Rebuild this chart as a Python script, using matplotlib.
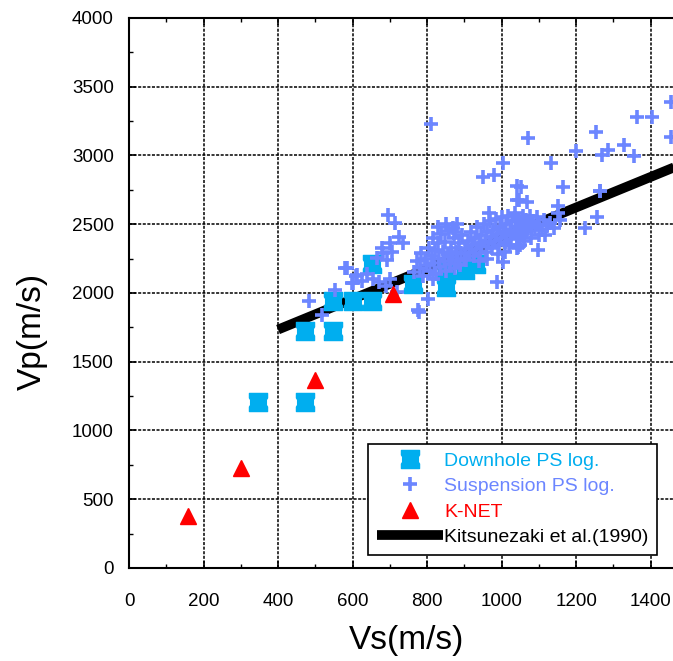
import matplotlib
matplotlib.use("Agg")
import matplotlib.pyplot as plt
from matplotlib.path import Path
from matplotlib.ticker import MultipleLocator

plt.rcParams['font.family'] = ['Liberation Sans', 'DejaVu Sans']

# Downhole PS logging
down_vs = [345, 473, 473, 548, 548, 601, 653, 653, 761, 851, 851, 903, 932]
down_vp = [1210, 1210, 1720, 1720, 1945, 1945, 1945, 2210, 2065, 2040, 2170, 2167, 2210]

# Suspension PS logging
susp_vs = [
    483, 518, 580, 612, 599, 553, 585, 601, 610, 625, 640, 655, 670, 690, 700, 720,
    692, 695, 714, 701, 736, 682, 665, 680, 705, 725, 776, 803, 816, 779,
    811, 1004, 950, 980, 1042, 1042, 1071, 1254, 1364, 1404, 1455, 1455, 1200, 1286,
    1270, 1329, 1356, 1133, 1052, 1165, 1264, 1152, 1256, 1224, 1152, 1117, 1098,
    1044, 1157, 875, 988, 1004, 966, 1068, 1047, 1264,
    765, 772, 780, 785, 790, 795, 800, 805, 808, 812, 815, 818, 822, 825, 828, 832,
    835, 838, 842, 845, 848, 852, 855, 858, 862, 865, 868, 872, 875, 878, 882, 885,
    888, 892, 895, 898, 830, 850, 870, 880,
    902, 905, 910, 913, 918, 920, 925, 928, 932, 935, 938, 942, 945, 948, 952, 955,
    958, 962, 965, 968, 972, 975, 978, 982, 985, 988, 992, 995, 998, 1002, 1005, 1008,
    1012, 1015, 1018, 1022, 1025, 1028, 1032, 1035, 1038, 1042, 1045, 1048, 1052, 1055,
    1058, 1062, 1065, 1068, 1072, 1075, 1080, 1085, 1090, 1095, 1100, 1108, 1115, 1122,
    1130, 1140, 960, 990, 1010, 1040, 1060, 1080, 1100, 940, 1020, 1050,
]
susp_vp = [
    1942, 1840, 2182, 2131, 2073, 2022, 2182, 2073, 2120, 2090, 2140, 2100, 2080, 2050, 2100, 2010,
    2240, 2567, 2509, 2364, 2364, 2291, 2255, 2330, 2300, 2407, 1876, 1956, 2102, 1862,
    3229, 2945, 2844, 2858, 2778, 2676, 3127, 3171, 3280, 3280, 3389, 3135, 3033, 3040,
    3004, 3076, 2996, 2945, 2771, 2771, 2742, 2633, 2553, 2473, 2582, 2422, 2313,
    2335, 2531, 2444, 2080, 2225, 2582, 2662, 2676, 2742,
    2150, 2230, 2180, 2290, 2120, 2250, 2200, 2330, 2160, 2270, 2400, 2220, 2310, 2140, 2360, 2250,
    2190, 2430, 2300, 2230, 2370, 2160, 2280, 2450, 2210, 2330, 2260, 2400, 2180, 2300, 2240, 2360,
    2200, 2290, 2420, 2250, 2480, 2500, 2470, 2500,
    2320, 2240, 2380, 2290, 2440, 2350, 2270, 2400, 2320, 2480, 2360, 2290, 2420, 2340, 2500, 2380,
    2300, 2440, 2360, 2520, 2410, 2330, 2460, 2380, 2540, 2430, 2350, 2480, 2400, 2550, 2440, 2370,
    2500, 2420, 2560, 2460, 2390, 2520, 2440, 2580, 2480, 2410, 2540, 2460, 2500, 2430,
    2560, 2480, 2530, 2450, 2500, 2560, 2470, 2520, 2480, 2550, 2500, 2460, 2530, 2490,
    2510, 2470, 2250, 2280, 2300, 2330, 2380, 2400, 2420, 2230, 2350, 2350,
]

# K-NET
knet_vs = [158, 300, 498, 709]
knet_vp = [375, 730, 1370, 1995]

# Kitsunezaki et al. (1990): Vp = 1.29 + 1.11 Vs (km/s)
kit_vs = [400, 1500]
kit_vp = [1734, 2955]

fig = plt.figure(figsize=(6.73, 6.61), dpi=100)
ax = fig.add_axes([0.1917, 0.1407, 0.8083, 0.8321])

# square with shallow notches on the sides, like the original symbol
notch = Path([(-1, -1), (1, -1), (1, -0.5), (0.87, -0.3), (0.87, 0.3), (1, 0.5),
              (1, 1), (-1, 1), (-1, 0.5), (-0.87, 0.3), (-0.87, -0.3), (-1, -0.5),
              (-1, -1)], closed=True)

ax.plot(kit_vs, kit_vp, color='black', lw=7, solid_capstyle='butt', zorder=2,
        label='Kitsunezaki et al.(1990)')
ax.plot(down_vs, down_vp, ls='none', marker=notch, ms=13, color='#00AEEF', mec='#00AEEF',
        zorder=3, label='Downhole PS log.')
ax.plot(susp_vs, susp_vp, ls='none', marker='+', ms=10, mew=2.6, color='#6C86FF',
        zorder=4, label='Suspension PS log.')
ax.plot(knet_vs, knet_vp, ls='none', marker='^', ms=11, color='#FF0000', mec='#FF0000',
        zorder=5, label='K-NET')

ax.set_xlim(0, 1460)
ax.set_ylim(0, 4000)
ax.xaxis.set_major_locator(MultipleLocator(200))
ax.xaxis.set_minor_locator(MultipleLocator(100))
ax.yaxis.set_major_locator(MultipleLocator(500))
ax.yaxis.set_minor_locator(MultipleLocator(250))
ax.grid(True, which='major', color='black', ls=(0, (2, 1)), lw=1.1)
ax.tick_params(which='both', direction='in', top=True, right=False, labelsize=13.5,
               color='black')
ax.tick_params(which='major', length=5, width=1.2)
ax.tick_params(which='minor', length=3, width=1)
ax.tick_params(axis='x', pad=18)
ax.tick_params(axis='y', pad=11)
ax.spines['right'].set_visible(False)
for s in ['left', 'top', 'bottom']:
    ax.spines[s].set_linewidth(1.5)

ax.set_xlabel('Vs(m/s)', fontsize=24)
ax.set_ylabel('Vp(m/s)', fontsize=24)
ax.xaxis.set_label_coords(0.51, -0.103)
ax.yaxis.set_label_coords(-0.15, 0.43)

h, l = ax.get_legend_handles_labels()
order = [1, 2, 3, 0]
leg = ax.legend([h[i] for i in order], [l[i] for i in order], loc='lower right',
                bbox_to_anchor=(0.9706, 0.024), borderaxespad=0, fancybox=False,
                edgecolor='black', framealpha=1, fontsize=14, handlelength=3.4,
                borderpad=0.45, labelspacing=0.4, handletextpad=0.05)
leg.get_frame().set_linewidth(1.2)
cols = ['#00AEEF', '#6C86FF', '#FF0000', 'black']
for t, c in zip(leg.get_texts(), cols):
    t.set_color(c)

fig.savefig('out.png', dpi=100)
